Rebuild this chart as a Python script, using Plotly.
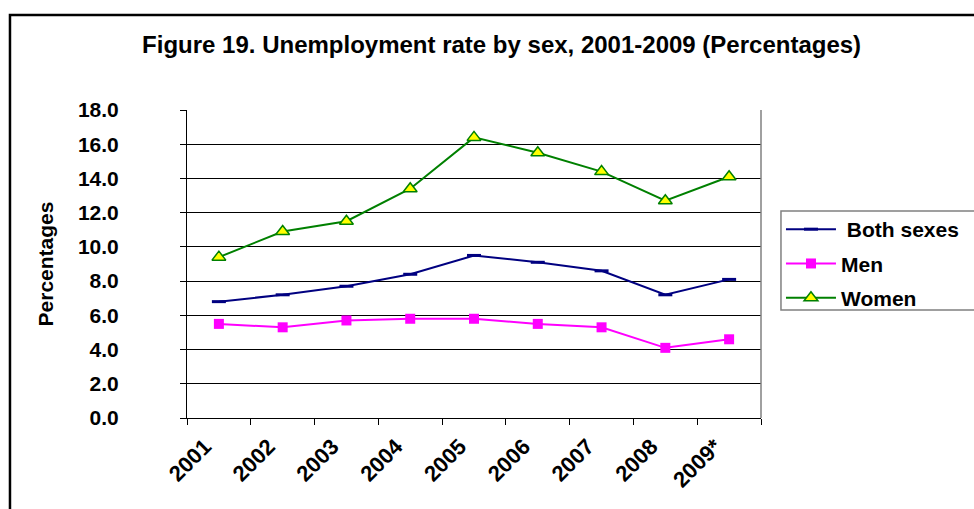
import plotly.graph_objects as go

years = ["2001", "2002", "2003", "2004", "2005", "2006", "2007", "2008", "2009*"]
both_sexes = [6.8, 7.2, 7.7, 8.4, 9.5, 9.1, 8.6, 7.2, 8.1]
men = [5.5, 5.3, 5.7, 5.8, 5.8, 5.5, 5.3, 4.1, 4.6]
women = [9.4, 10.9, 11.5, 13.4, 16.4, 15.5, 14.4, 12.7, 14.1]
y_ticks = [0, 2, 4, 6, 8, 10, 12, 14, 16, 18]

FONT = "Liberation Sans, Arial, sans-serif"

fig = go.Figure()
fig.add_trace(go.Scatter(
    x=years, y=both_sexes, name="\u00a0Both sexes", mode="lines+markers",
    line=dict(color="#000080", width=2),
    marker=dict(symbol="line-ew", size=10, color="#000080",
                line=dict(color="#000080", width=3)),
    legendgroup="a",
))
fig.add_trace(go.Scatter(
    x=years, y=men, name="Men", mode="lines+markers",
    line=dict(color="#FF00FF", width=2),
    marker=dict(symbol="square", size=10, color="#FF00FF",
                line=dict(color="#FF00FF", width=0)),
    legendgroup="b",
))
fig.add_trace(go.Scatter(
    x=years, y=women, name="Women", mode="lines+markers",
    line=dict(color="#008000", width=2),
    marker=dict(symbol="triangle-up", size=12, color="#FFFF00",
                line=dict(color="#008000", width=1.5)),
    legendgroup="c",
))

fig.update_layout(
    width=974, height=509,
    margin=dict(l=187, r=213, t=110, b=91, autoexpand=False),
    paper_bgcolor="white", plot_bgcolor="white",
    font=dict(family=FONT, color="black", size=20),
    title=dict(text="<b>Figure 19. Unemployment rate by sex, 2001-2009 (Percentages)</b>",
               x=0.515, xanchor="center", y=0.913, yanchor="middle",
               font=dict(size=24, family=FONT, color="black")),
    showlegend=True,
    legend=dict(x=1.0348, xanchor="left", y=0.6785, yanchor="top",
                bgcolor="rgba(0,0,0,0)", borderwidth=0,
                font=dict(size=21, family=FONT, color="black", weight="bold"),
                itemwidth=50, traceorder="grouped", tracegroupgap=4,
                itemclick=False, itemdoubleclick=False),
    xaxis=dict(
        type="category", categoryorder="array", categoryarray=years,
        range=[-0.5, len(years) - 0.5],
        tickson="boundaries", ticks="outside", ticklen=6, tickwidth=1,
        tickcolor="black", showline=True, linecolor="black", linewidth=1,
        showgrid=False, zeroline=False, tickangle=-45,
        tickfont=dict(size=22, family=FONT, color="black", weight="bold"),
        ticklabelstandoff=6, ticklabelshift=-14,
    ),
    yaxis=dict(
        range=[0, 18], tickvals=y_ticks, tickformat=".1f",
        ticks="outside", ticklen=6, tickwidth=1, tickcolor="black",
        showline=True, linecolor="black", linewidth=1,
        showgrid=True, gridcolor="black", gridwidth=1, zeroline=False,
        tickfont=dict(size=21, family=FONT, color="black", weight="bold"),
        ticklabelstandoff=57,
        title=dict(text="<b>Percentages</b>", standoff=18,
                   font=dict(size=21, family=FONT, color="black")),
    ),
    shapes=[
        dict(type="line", xref="paper", yref="paper", x0=1, x1=1, y0=0, y1=1,
             line=dict(color="#808080", width=1.5)),
        dict(type="rect", xref="paper", yref="paper", x0=-0.3084, x1=2,
             y0=-1, y1=1.3084, line=dict(color="black", width=2.5),
             fillcolor="rgba(0,0,0,0)", layer="below"),
        dict(type="rect", xref="paper", yref="paper", x0=1.0348, x1=2,
             y0=0.351, y1=0.672, line=dict(color="#808080", width=1.5),
             fillcolor="rgba(0,0,0,0)", layer="below"),
    ],
)

fig.write_html(
    "out.html",
    config={"displayModeBar": False},
    post_script="document.body.style.margin='0';document.body.style.overflow='hidden';",
)
